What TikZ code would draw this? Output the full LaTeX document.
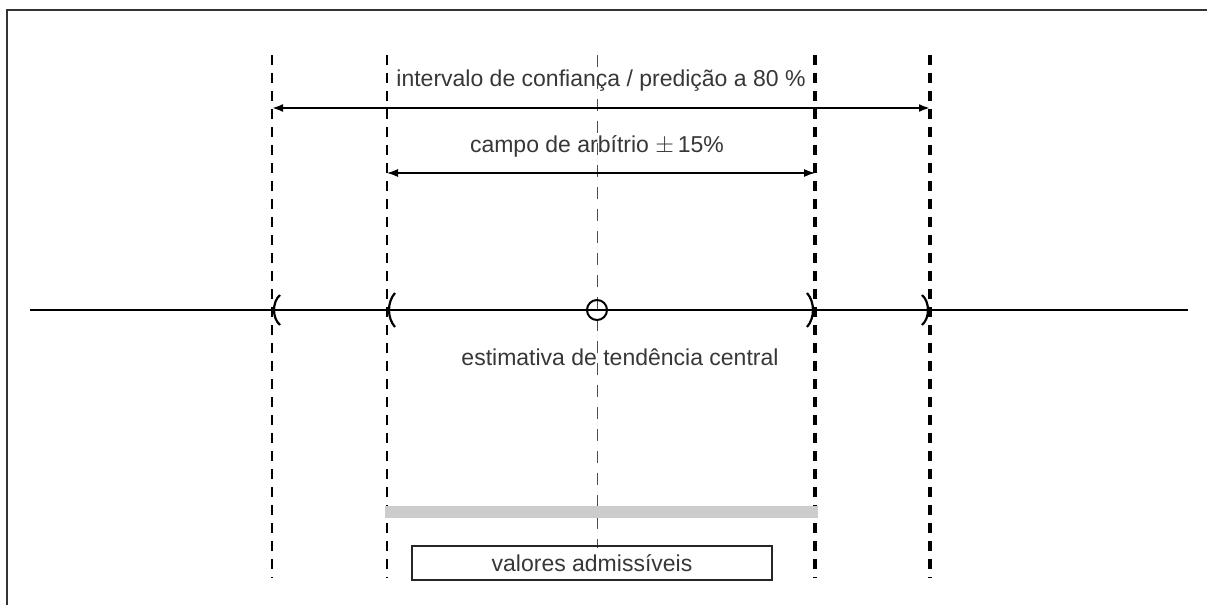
\documentclass[tikz,border=0pt]{standalone}
\usepackage{fontspec}
\setmainfont{Liberation Sans}
\usetikzlibrary{arrows.meta,positioning,calc}
\definecolor{txtgray}{RGB}{55,55,55}
\tikzset{
  limit line/.style={draw=black,line width=1.1pt,dash pattern=on 5pt off 4pt},
  bold limit/.style={draw=black,line width=1.9pt,dash pattern=on 5pt off 4pt},
  center line/.style={draw=black!70,line width=0.5pt,dash pattern=on 6pt off 5pt},
  label text/.style={text=txtgray,font=\fontsize{11.5}{13}\selectfont,inner sep=1pt},
  range arrow/.style={{Latex[length=5.5pt,width=4pt]}-{Latex[length=5.5pt,width=4pt]}},
  bracket/.style={line width=1.1pt}
}
\begin{document}
\begin{tikzpicture}[x=0.5pt,y=-0.5pt]
  \useasboundingbox (0,0) rectangle (1207,605);
  % frame
  \draw[black!80,line width=0.6pt] (7,605) -- (7,10) -- (1207,10);

  % vertical limits
  \coordinate (iatop) at (272,55);  \coordinate (iabot) at (272,578); \coordinate (iamid) at (272,310);
  \coordinate (ibtop) at (387,55);  \coordinate (ibbot) at (387,578); \coordinate (ibmid) at (387,310);
  \coordinate (ictop) at (597,55);  \coordinate (icbot) at (597,548); \coordinate (icmid) at (597,310);
  \coordinate (idtop) at (815,55);  \coordinate (idbot) at (815,578); \coordinate (idmid) at (815,310);
  \coordinate (ietop) at (930,55);  \coordinate (iebot) at (930,578); \coordinate (iemid) at (930,310);
  \draw[limit line] (iatop) -- (iabot);
  \draw[limit line] (ibtop) -- (ibbot);
  \draw[center line] (ictop) -- (icbot);
  \draw[bold limit] (idtop) -- (idbot);
  \draw[bold limit] (ietop) -- (iebot);

  % range arrows
  \coordinate (p80l) at (272,108);
  \coordinate (p80r) at (930,108);
  \draw[range arrow,line width=1.2pt] (p80l) -- (p80r);
  \node[label text] (p80) at (601,81) {intervalo de confiança / predição a 80 \%};

  \coordinate (arbl) at (387,173);
  \coordinate (arbr) at (815,173);
  \draw[range arrow,line width=0.6pt] (arbl) -- (arbr);
  \node[label text] (arb) at (597,146) {campo de arbítrio $\pm$\,15\%};

  % axis
  \coordinate (axl) at (30,310);
  \coordinate (axr) at (1188,310);
  \draw[line width=1.4pt] (axl) -- (axr);
  \draw[line width=1pt] (icmid) circle[radius=10];
  \draw[bracket] ($(iamid)+(8,-15)$) .. controls ($(iamid)+(0,-8)$) and ($(iamid)+(0,8)$) .. ($(iamid)+(8,15)$);
  \draw[bracket] ($(ibmid)+(8,-17)$) .. controls ($(ibmid)+(0,-8)$) and ($(ibmid)+(0,8)$) .. ($(ibmid)+(8,17)$);
  \draw[bracket] ($(idmid)+(-8,-17)$) .. controls ($(idmid)+(0,-8)$) and ($(idmid)+(0,8)$) .. ($(idmid)+(-8,17)$);
  \draw[bracket] ($(iemid)+(-8,-15)$) .. controls ($(iemid)+(0,-8)$) and ($(iemid)+(0,8)$) .. ($(iemid)+(-8,15)$);
  \node[label text] (est) at (620,357) {estimativa de tendência central};

  % admissible values
  \fill[black!20] (385,506) rectangle (818,518);
  \node[label text,draw=black!85,line width=1pt,minimum width=180pt,minimum height=17pt] (adm) at (592,563) {valores admissíveis};
\end{tikzpicture}
\end{document}
